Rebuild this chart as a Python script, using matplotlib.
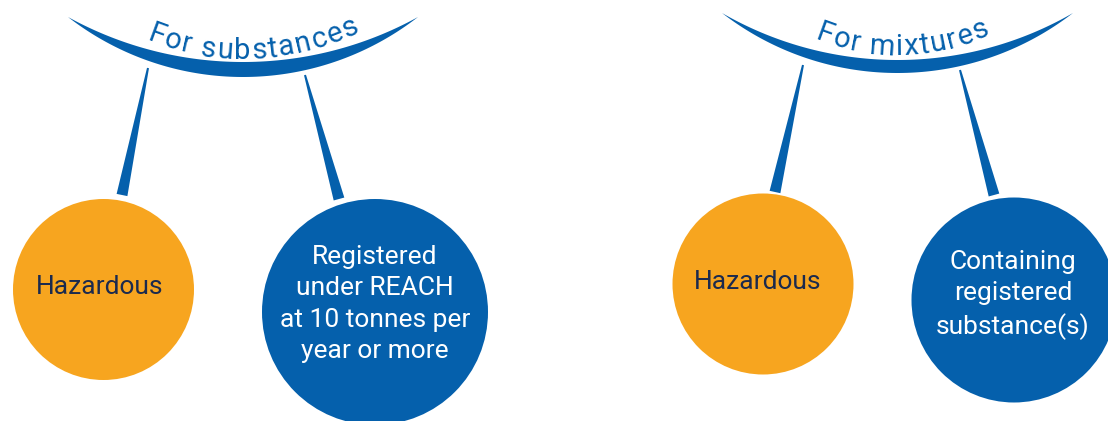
import numpy as np
import matplotlib.pyplot as plt
from matplotlib.patches import Circle, Polygon

BLUE = '#0560AC'
ORANGE = '#F7A51F'
NAVY = '#1B2A4E'
FONT = 'Roboto'

# diagram content
group_titles = ['For substances', 'For mixtures']
left_labels = ['Hazardous', 'Hazardous']
right_labels = ['Registered\nunder REACH\nat 10 tonnes per\nyear or more',
                'Containing\nregistered\nsubstance(s)']

# layout, in pixels (y grows downwards)
arc_x = [(68, 418), (722, 1073)]
arc_end_y = [17, 13]
arc_low_y = [77, 73]
arc_up_y = [62, 60]
title_xy = [(243, 59), (897, 55)]   # lowest point of the text baseline circle
title_shift = [11, 6]               # text centre along the baseline
title_r = [260, 220]
stems = [[(148, 68, 122, 195), (305, 75, 339, 199)],
         [(803, 65, 775, 192), (960, 70, 994, 195)]]
left_circ = [(103.5, 289.5, 90.5), (763, 284, 90.5)]
right_circ = [(375, 312, 113), (1014, 300, 102.5)]
left_txt = [(100, 287), (758, 282)]
right_txt = [(375, 304), (1013, 295)]

W, H = 1108, 421
fig = plt.figure(figsize=(W / 100, H / 100), dpi=100)
ax = fig.add_axes([0, 0, 1, 1])
ax.set_xlim(0, W)
ax.set_ylim(H, 0)
ax.axis('off')
renderer = fig.canvas.get_renderer()


def arc_pts(x0, x1, ye, ymid, n=100):
    c = (x0 + x1) / 2
    h = (x1 - x0) / 2
    s = ymid - ye
    R = (h * h + s * s) / (2 * s)
    cy = ymid - R
    a = np.arcsin(h / R)
    t = np.linspace(-a, a, n)
    return c + R * np.sin(t), cy + R * np.cos(t)


def text_width(s, size, weight):
    t = ax.text(0, 0, s, fontsize=size, family=FONT, fontweight=weight)
    w = t.get_window_extent(renderer).width
    t.remove()
    return w


def curved_text(s, cx, by, R, shift=0, size=21, weight='normal', track=1.6):
    base = text_width('aa', size, weight)
    adv = [text_width('a' + ch + 'a', size, weight) - base for ch in s]
    total = sum(adv) + track * (len(s) - 1)
    pos = shift - total / 2
    cy = by - R
    for ch, a in zip(s, adv):
        phi = (pos + a / 2) / R
        ax.text(cx + R * np.sin(phi), cy + R * np.cos(phi), ch,
                fontsize=size, family=FONT, fontweight=weight, color=BLUE,
                rotation=np.degrees(phi), rotation_mode='anchor',
                ha='center', va='baseline')
        pos += a + track


def stem(x0, y0, x1, y1, w0=2.0, w1=11.0):
    d = np.array([x1 - x0, y1 - y0], float)
    d /= np.hypot(*d)
    n = np.array([-d[1], d[0]])
    p0, p1 = np.array([x0, y0]), np.array([x1, y1])
    pts = [p0 + n * w0 / 2, p1 + n * w1 / 2, p1 - n * w1 / 2, p0 - n * w0 / 2]
    ax.add_patch(Polygon(pts, closed=True, fc=BLUE, ec='none'))


for g in range(2):
    x0, x1 = arc_x[g]
    lx, ly = arc_pts(x0, x1, arc_end_y[g], arc_low_y[g])
    ux, uy = arc_pts(x0, x1, arc_end_y[g], arc_up_y[g])
    pts = np.column_stack([np.r_[lx, ux[::-1]], np.r_[ly, uy[::-1]]])
    ax.add_patch(Polygon(pts, closed=True, fc=BLUE, ec='none'))
    curved_text(group_titles[g], title_xy[g][0], title_xy[g][1], title_r[g],
                shift=title_shift[g])

    for s in stems[g]:
        stem(*s)

    cx, cy, r = left_circ[g]
    ax.add_patch(Circle((cx, cy), r, fc=ORANGE, ec='none'))
    cx, cy, r = right_circ[g]
    ax.add_patch(Circle((cx, cy), r, fc=BLUE, ec='none'))

    ax.text(*left_txt[g], left_labels[g], fontsize=19, family=FONT,
            color=NAVY, ha='center', va='center')
    ax.text(*right_txt[g], right_labels[g], fontsize=19, family=FONT,
            color='white', ha='center', va='center', linespacing=1.38)

fig.savefig('out.png', dpi=100, facecolor='white')
